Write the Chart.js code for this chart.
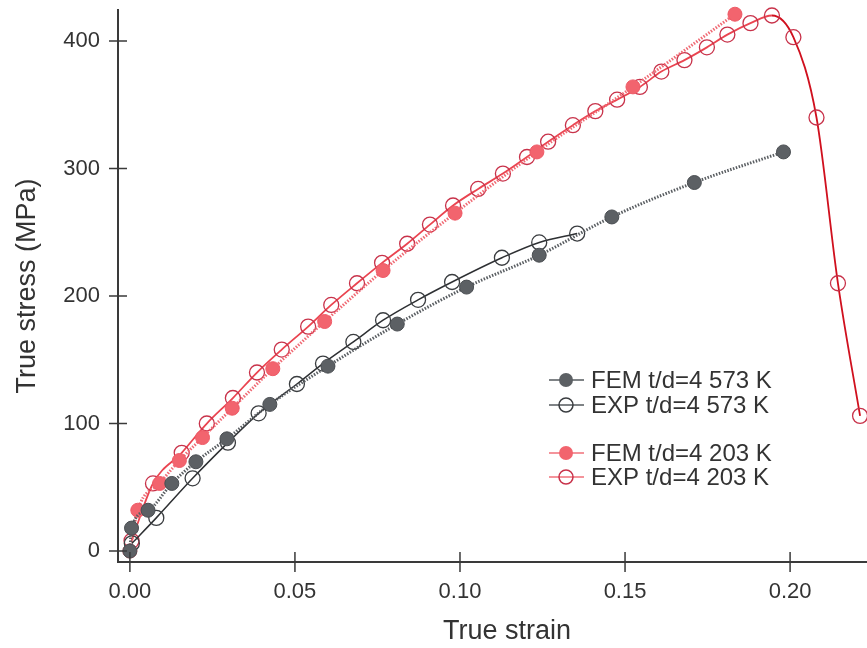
<!DOCTYPE html>
<html>
<head>
<meta charset="utf-8">
<script src="https://cdn.jsdelivr.net/npm/chart.js@4.4.1/dist/chart.umd.min.js"></script>
<style>
  html, body { margin: 0; padding: 0; background: #fff; }
  canvas { display: block; }
</style>
</head>
<body>
<canvas id="chart" width="867" height="648"></canvas>
<script>
// Tick labels
const xTicks = [0, 0.05, 0.1, 0.15, 0.2];
const yTicks = [0, 100, 200, 300, 400];

// FEM t/d=4 573 K
const fem573X = [0, 0.0005, 0.0055, 0.0127, 0.020, 0.0294, 0.0424, 0.060, 0.081, 0.102, 0.124, 0.146, 0.171, 0.198];
const fem573Y = [0, 18, 32, 53, 70, 88, 115, 145, 178, 207, 232, 262, 289, 313];

// EXP t/d=4 573 K
const exp573X = [0.0006, 0.008, 0.019, 0.0297, 0.039, 0.0506, 0.0585, 0.0677, 0.0767, 0.0873, 0.0976, 0.1127, 0.124, 0.1355];
const exp573Y = [6, 26, 57, 85, 108, 131, 147, 164, 181, 197, 211, 230, 242, 249];

// FEM t/d=4 203 K
const fem203X = [0, 0.0024, 0.009, 0.015, 0.022, 0.031, 0.0433, 0.059, 0.0767, 0.0985, 0.1233, 0.1524, 0.1833];
const fem203Y = [0, 32, 53, 71, 89, 112, 143, 180, 220, 265, 313, 364, 421];

// EXP t/d=4 203 K
const exp203X = [0.0005, 0.007, 0.0157, 0.0233, 0.0312, 0.0385, 0.046, 0.054, 0.061, 0.0688, 0.0764, 0.084, 0.0909, 0.0979, 0.1055, 0.113, 0.1203, 0.1267, 0.1342, 0.141, 0.1476, 0.1545, 0.161, 0.168, 0.1748, 0.181, 0.188, 0.1945, 0.201, 0.208, 0.2145, 0.2212];
const exp203Y = [8, 53, 77, 100, 120, 140, 158, 176, 193, 210, 226, 241, 256, 271, 284, 296, 309, 321, 334, 345, 354, 364, 376, 385, 395, 405, 414, 420, 403, 340, 210, 106];

const legendItems = [
  { text: "FEM t/d=4 573 K", line: "#555a5e", fill: "#5c6064", stroke: "#4a4e52" },
  { text: "EXP t/d=4 573 K", line: "#555a5e", fill: null, stroke: "#3a3d40" },
  { text: "FEM t/d=4 203 K", line: "#f0707a", fill: "#f2646e", stroke: "#f2646e" },
  { text: "EXP t/d=4 203 K", line: "#f0707a", fill: null, stroke: "#c8324a" },
];

const FONT = "'Liberation Sans', Arial, Helvetica, sans-serif";
const TEXT = "#333333";
const AXIS = "#3a3a3a";

function toPoints(xs, ys) {
  return xs.map((x, i) => ({ x: x, y: ys[i] }));
}

// Ticks crossing the axis lines, plus the x axis title
const crossTicks = {
  id: "crossTicks",
  afterDraw(chart) {
    const ctx = chart.ctx;
    const xs = chart.scales.x;
    const ys = chart.scales.y;
    const area = chart.chartArea;
    ctx.save();
    ctx.strokeStyle = AXIS;
    ctx.lineWidth = 1.5;
    ctx.beginPath();
    ys.ticks.forEach((t) => {
      const py = ys.getPixelForValue(t.value);
      ctx.moveTo(area.left - 9, py);
      ctx.lineTo(area.left + 9, py);
    });
    xs.ticks.forEach((t) => {
      const px = xs.getPixelForValue(t.value);
      ctx.moveTo(px, area.bottom - 10);
      ctx.lineTo(px, area.bottom + 10);
    });
    ctx.stroke();

    ctx.fillStyle = TEXT;
    ctx.font = "27px " + FONT;
    ctx.textAlign = "center";
    ctx.textBaseline = "middle";
    ctx.fillText("True strain", 507, 632);
    ctx.restore();
  },
};

// Legend drawn inside the plot
const plotLegend = {
  id: "plotLegend",
  afterDraw(chart) {
    const ctx = chart.ctx;
    const rows = [380, 405, 453, 477];
    ctx.save();
    ctx.font = "24px " + FONT;
    ctx.textBaseline = "middle";
    legendItems.forEach((item, i) => {
      const y = rows[i];
      ctx.strokeStyle = item.line;
      ctx.lineWidth = 1.5;
      ctx.beginPath();
      ctx.moveTo(549, y);
      ctx.lineTo(584, y);
      ctx.stroke();
      ctx.beginPath();
      ctx.arc(566, y, 7, 0, Math.PI * 2);
      if (item.fill) {
        ctx.fillStyle = item.fill;
        ctx.fill();
      } else {
        ctx.strokeStyle = item.stroke;
        ctx.lineWidth = 1.5;
        ctx.stroke();
      }
      ctx.fillStyle = TEXT;
      ctx.fillText(item.text, 591, y + 1);
    });
    ctx.restore();
  },
};

const ctx = document.getElementById("chart").getContext("2d");
new Chart(ctx, {
  type: "scatter",
  data: {
    datasets: [
      {
        label: "FEM t/d=4 573 K",
        data: toPoints(fem573X, fem573Y),
        showLine: true,
        borderColor: "#5a5e62",
        borderWidth: 3,
        borderDash: [1.5, 1.5],
        pointRadius: 7,
        pointBackgroundColor: "#5c6064",
        pointBorderColor: "#4a4e52",
        pointBorderWidth: 1,
        cubicInterpolationMode: "monotone",
        clip: false,
      },
      {
        label: "EXP t/d=4 573 K",
        data: toPoints(exp573X, exp573Y),
        showLine: true,
        borderColor: "#2e3033",
        borderWidth: 1.5,
        pointRadius: 7.5,
        pointBackgroundColor: "rgba(0,0,0,0)",
        pointBorderColor: "#3a3d40",
        pointBorderWidth: 1.3,
        cubicInterpolationMode: "monotone",
        clip: false,
      },
      {
        label: "FEM t/d=4 203 K",
        data: toPoints(fem203X, fem203Y),
        showLine: true,
        borderColor: "#f06a74",
        borderWidth: 3,
        borderDash: [1.5, 1.5],
        pointRadius: 7,
        pointBackgroundColor: "#f2646e",
        pointBorderColor: "#ee5a66",
        pointBorderWidth: 1,
        cubicInterpolationMode: "monotone",
        clip: false,
      },
      {
        label: "EXP t/d=4 203 K",
        data: toPoints(exp203X, exp203Y),
        showLine: true,
        borderColor: "#ea4450",
        borderWidth: 1.8,
        segment: {
          borderColor: (c) => (c.p0.parsed.x >= 0.194 ? "#d0101e" : undefined),
        },
        pointRadius: 7.5,
        pointBackgroundColor: "rgba(0,0,0,0)",
        pointBorderColor: "#c8324a",
        pointBorderWidth: 1.3,
        cubicInterpolationMode: "monotone",
        clip: false,
      },
    ],
  },
  options: {
    responsive: false,
    animation: false,
    layout: { autoPadding: false, padding: { top: 10, right: 0, bottom: 0, left: 0 } },
    plugins: {
      legend: { display: false },
      tooltip: { enabled: false },
    },
    scales: {
      x: {
        type: "linear",
        min: -0.0036,
        max: 0.2233,
        afterBuildTicks: (s) => {
          s.ticks = xTicks.map((v) => ({ value: v }));
        },
        afterFit: (s) => {
          s.height = 86;
          s.paddingLeft = 0;
          s.paddingRight = 0;
        },
        grid: { display: false, drawTicks: false },
        border: { display: true, color: AXIS, width: 2 },
        ticks: {
          padding: 17,
          color: TEXT,
          font: { family: FONT, size: 22 },
          callback: (v) => v.toFixed(2),
        },
      },
      y: {
        type: "linear",
        min: -8.6,
        max: 424.3,
        afterBuildTicks: (s) => {
          s.ticks = yTicks.map((v) => ({ value: v }));
        },
        afterFit: (s) => {
          s.width = 118;
          s.paddingTop = 0;
          s.paddingBottom = 0;
        },
        grid: { display: false, drawTicks: false },
        border: { display: true, color: AXIS, width: 2 },
        ticks: {
          padding: 18,
          color: TEXT,
          font: { family: FONT, size: 22 },
          callback: (v) => String(v),
        },
        title: {
          display: true,
          text: "True stress (MPa)",
          color: TEXT,
          font: { family: FONT, size: 27 },
          padding: { top: 11, bottom: 0 },
        },
      },
    },
  },
  plugins: [crossTicks, plotLegend],
});
</script>
</body>
</html>
